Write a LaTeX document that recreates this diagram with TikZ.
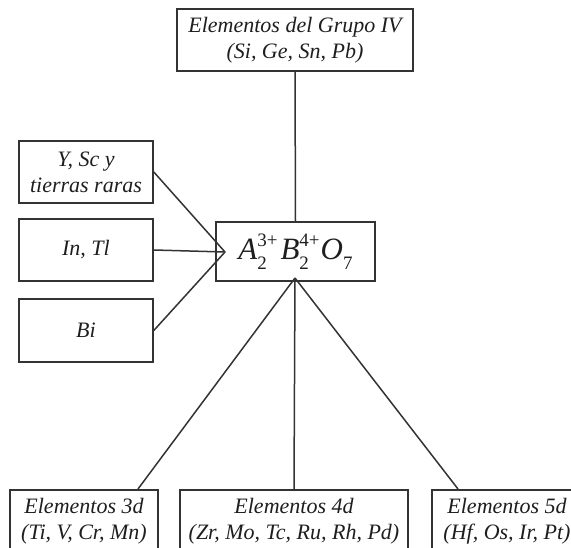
\documentclass[tikz,border=0pt]{standalone}
\usepackage{fontspec}
\setmainfont{Liberation Serif}
\usetikzlibrary{positioning}
\definecolor{boxline}{HTML}{333333}
\definecolor{boxtext}{HTML}{1E1E1E}
\newcommand{\scriptsz}{\fontsize{19}{19}\selectfont\upshape}
\newcommand{\ionterm}[3]{#1\rlap{\raisebox{-0.3em}{\scriptsz #2}}\raisebox{0.43em}{\scriptsz #3}}

\begin{document}
\begin{tikzpicture}[x=1pt,y=-1pt,
    elembox/.style={draw=boxline,line width=1.6pt,text=boxtext,
      font=\fontsize{22}{26}\selectfont\itshape,align=center,inner sep=0pt},
    link/.style={draw=boxline,line width=1.5pt}
  ]
    \clip (0,0) rectangle (571,548);
    % compuesto central
    \node[elembox,minimum width=159pt,minimum height=59pt,font=\fontsize{31}{34}\selectfont\itshape] (pyro) at (295.5,251.5)
      {\ionterm{A}{2}{3+}\hspace{3pt}\ionterm{B}{2}{4+}\hspace{1pt}O\raisebox{-0.3em}{\scriptsz 7}};
    \node[elembox,minimum width=236pt,minimum height=62pt] (grupo) at (295,40)
      {Elementos del Grupo IV\\(Si, Ge, Sn, Pb)};
    % cationes A
    \node[elembox,minimum width=134pt,minimum height=62pt] (raras) at (86,172) {Y, Sc y\\tierras raras};
    \node[elembox,minimum width=134pt,minimum height=62pt] (intl) at (86,250) {In, Tl};
    \node[elembox,minimum width=134pt,minimum height=63pt] (bi) at (86,330.5) {Bi};
    % cationes B
    \node[elembox,anchor=north,minimum width=148pt,inner ysep=8pt] (d3) at (84,489) {Elementos 3d\\(Ti, V, Cr, Mn)};
    \node[elembox,anchor=north,minimum width=228pt,inner ysep=8pt] (d4) at (294,489) {Elementos 4d\\(Zr, Mo, Tc, Ru, Rh, Pd)};
    \node[elembox,anchor=north,minimum width=150pt,inner ysep=8pt] (d5) at (507,489) {Elementos 5d\\(Hf, Os, Ir, Pt)};
    \coordinate (izq) at (225,252);
    \coordinate (abajo) at (295,278);
    \draw[link] (grupo.south)--(pyro.north);
    \draw[link] (raras.east)--(izq);
    \draw[link] (intl.east)--(izq);
    \draw[link] (bi.east)--(izq);
    \draw[link] (abajo)--([xshift=54pt]d3.north);
    \draw[link] (abajo)--(d4.north);
    \draw[link] (abajo)--([xshift=-49pt]d5.north);
  \end{tikzpicture}
\end{document}
